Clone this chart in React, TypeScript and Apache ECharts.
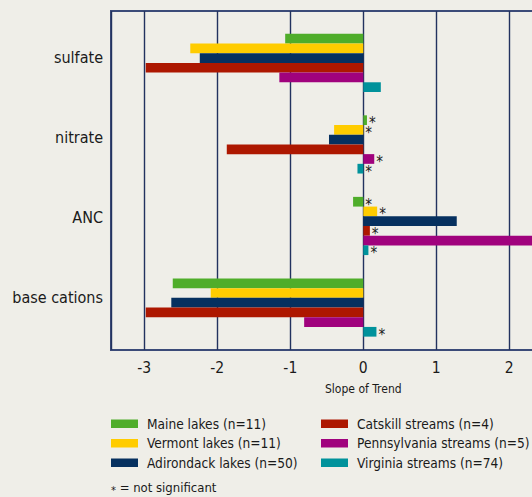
import React, { useEffect, useRef } from "react";
import * as echarts from "echarts";

const categories = ["sulfate", "nitrate", "ANC", "base cations"];
const seriesNames = [
  "Maine lakes (n=11)",
  "Vermont lakes (n=11)",
  "Adirondack lakes (n=50)",
  "Catskill streams (n=4)",
  "Pennsylvania streams (n=5)",
  "Virginia streams (n=74)",
];
const maine = [-1.07, 0.05, -0.14, -2.61];
const vermont = [-2.37, -0.4, 0.19, -2.09];
const adirondack = [-2.24, -0.47, 1.28, -2.63];
const catskill = [-2.98, -1.87, 0.09, -2.98];
const pennsylvania = [-1.15, 0.15, 2.6, -0.81];
const virginia = [0.24, -0.08, 0.07, 0.18];

const maineNS = [false, true, true, false];
const vermontNS = [false, true, true, false];
const adirondackNS = [false, false, false, false];
const catskillNS = [false, false, true, false];
const pennsylvaniaNS = [false, true, false, false];
const virginiaNS = [false, true, true, true];

const xTickLabels = ["-3", "-2", "-1", "0", "1", "2", ""];
const xName = "Slope of Trend";
const footnote = "= not significant";

const colors = ["#4fad2a", "#ffcc00", "#06305f", "#ad1700", "#a0027d", "#00929b"];
const BG = "#efeee8";
const NAVY = "#22325f";
const FONT = "'DejaVu Sans Condensed', 'Liberation Sans', sans-serif";

const allValues = [maine, vermont, adirondack, catskill, pennsylvania, virginia];
const allNS = [maineNS, vermontNS, adirondackNS, catskillNS, pennsylvaniaNS, virginiaNS];

const W = 640;
const H = 497;
const XMIN = -3.456;
const XMAX = 3.456;

export default function App() {
  const ref = useRef<HTMLDivElement>(null);
  useEffect(() => {
    const chart = echarts.init(ref.current!, null, { renderer: "svg" });
    const gridL = 111;
    const gridR = W - 615.6;
    const series = seriesNames.map((name, i) => ({
      name,
      type: "bar",
      xAxisIndex: 1,
      yAxisIndex: 1,
      barWidth: 9.7,
      barGap: "0%",
      itemStyle: { color: colors[i] },
      label: {
        show: false,
        position: "right",
        distance: 2,
        formatter: "*",
        fontFamily: FONT,
        fontSize: 15,
        color: "#1a1a1a",
        offset: [0, 3],
      },
      data: allValues[i].map((v, j) => ({
        value: v,
        label: { show: allNS[i][j] },
      })),
    }));
    const legendText = { fontSize: 13.6, color: "#1a1a1a", lineHeight: 19.5, padding: [0, 0, 0, 4], fontFamily: FONT };
    const option: any = {
      animation: false,
      backgroundColor: BG,
      textStyle: { fontFamily: FONT },
      grid: [
        {
          left: gridL,
          right: gridR,
          top: 11,
          bottom: H - 350,
          show: true,
          borderColor: "#3b4b78",
          borderWidth: 2,
          backgroundColor: "transparent",
        },
        { left: gridL, right: gridR, top: 22.1, bottom: H - 348.3 },
        { left: gridL, right: gridR, top: 17, bottom: H - 337 },
      ],
      xAxis: [
        {
          gridIndex: 0,
          type: "value",
          min: XMIN,
          max: XMAX,
          splitNumber: 6,
          axisLine: { show: false },
          axisTick: { show: false },
          splitLine: { show: true, lineStyle: { color: NAVY, width: 1.4 } },
          axisLabel: {
            showMinLabel: false,
            showMaxLabel: false,
            fontSize: 15.5,
            color: "#1a1a1a",
            margin: 10,
            fontFamily: FONT,
            formatter: (v: number) => xTickLabels[Math.round(v) + 3] ?? "",
          },
          name: xName,
          nameLocation: "middle",
          nameGap: 33,
          nameTextStyle: { fontSize: 12, color: "#1a1a1a", fontFamily: FONT },
        },
        { gridIndex: 1, type: "value", min: XMIN, max: XMAX, show: false },
        { gridIndex: 2, type: "value", min: XMIN, max: XMAX, show: false },
      ],
      yAxis: [
        { gridIndex: 0, type: "category", data: categories, show: false },
        { gridIndex: 1, type: "category", data: categories, inverse: true, show: false },
        {
          gridIndex: 2,
          type: "category",
          data: categories,
          inverse: true,
          axisLine: { show: false },
          axisTick: { show: false },
          splitLine: { show: false },
          axisLabel: { fontSize: 16, color: "#1a1a1a", margin: 8, fontFamily: FONT },
        },
      ],
      legend: [
        {
          left: 111,
          top: 414,
          padding: 0,
          orient: "vertical",
          icon: "rect",
          itemWidth: 27,
          itemHeight: 8.5,
          itemGap: 0,
          data: seriesNames.slice(0, 3),
          textStyle: legendText,
        },
        {
          left: 321,
          top: 414,
          padding: 0,
          orient: "vertical",
          icon: "rect",
          itemWidth: 27,
          itemHeight: 8.5,
          itemGap: 0,
          data: seriesNames.slice(3),
          textStyle: legendText,
        },
      ],
      graphic: [
        {
          type: "text",
          left: 111,
          top: 481,
          style: {
            text: "{a|*} " + footnote,
            fill: "#1a1a1a",
            font: "13px " + FONT,
            rich: {
              a: { fontSize: 11, fontFamily: FONT, fill: "#1a1a1a", padding: [6, 0, 0, 0] },
            },
          },
        },
      ],
      series,
    };
    chart.setOption(option);
    return () => chart.dispose();
  }, []);
  return (
    <div style={{ position: "fixed", left: 0, top: 0, width: 532, height: 497, overflow: "hidden", background: BG }}>
      <div ref={ref} style={{ width: W, height: H }} />
    </div>
  );
}
